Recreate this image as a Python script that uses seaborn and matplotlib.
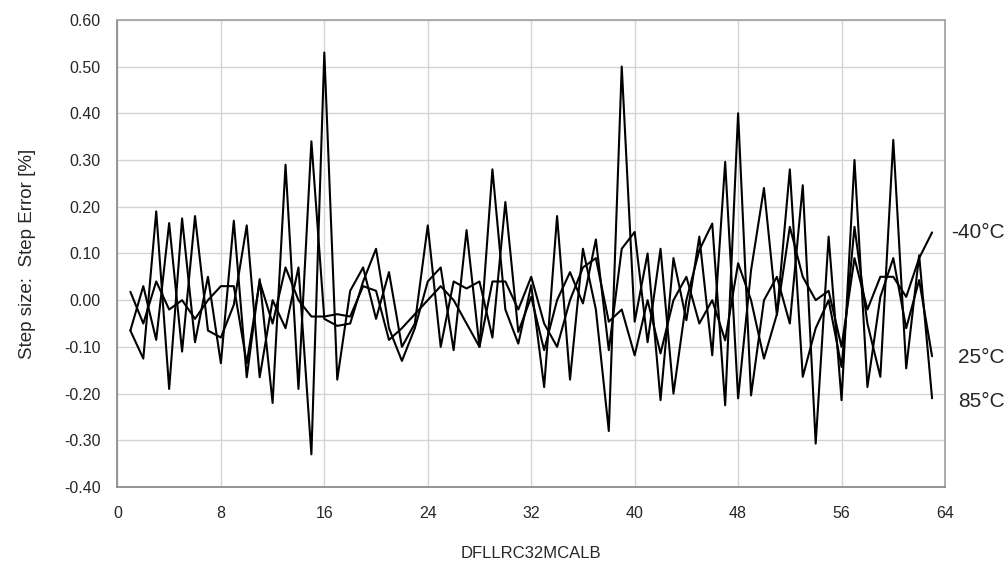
import numpy as np
import pandas as pd
import matplotlib
matplotlib.use("Agg")
import matplotlib.pyplot as plt
import seaborn as sns

# DFLLRC32MCALB setting 1..63
steps = list(range(1, 64))

# step error [%] per temperature
err_m40 = [0.018, -0.05, 0.04, -0.02, 0.0, -0.04, 0.0, 0.03, 0.03, -0.135,
           0.04, -0.05, 0.07, 0.0, -0.035, -0.035, -0.03, -0.035, 0.03, 0.02,
           -0.085, -0.06, -0.03, 0.0, 0.03, 0.0, -0.05, -0.10, 0.04, 0.04,
           -0.02, 0.05, -0.05, -0.10, 0.0, 0.07, 0.09, -0.046, -0.02, -0.118,
           0.0, -0.114, 0.0, 0.05, -0.05, 0.0, -0.086, 0.079, 0.0, -0.125,
           -0.03, 0.157, 0.05, 0.0, 0.02, -0.10, 0.09, -0.02, 0.05, 0.05,
           0.007, 0.09, 0.145]
err_25 = [-0.065, 0.03, -0.085, 0.165, -0.11, 0.18, -0.065, -0.08, -0.01, 0.16,
          -0.165, 0.0, -0.06, 0.07, -0.33, 0.53, -0.17, 0.02, 0.07, -0.04,
          0.06, -0.10, -0.05, 0.16, -0.10, 0.04, 0.025, 0.04, -0.08, 0.21,
          -0.068, 0.007, -0.107, 0.0, 0.06, -0.007, 0.13, -0.107, 0.11, 0.146,
          -0.09, 0.11, -0.20, 0.0, 0.107, 0.164, -0.225, 0.40, -0.204, 0.0,
          0.05, -0.05, 0.246, -0.307, 0.136, -0.214, 0.30, -0.186, 0.007, 0.09,
          -0.06, 0.043, -0.12]
err_85 = [-0.065, -0.125, 0.19, -0.19, 0.175, -0.09, 0.05, -0.135, 0.17, -0.165,
          0.045, -0.22, 0.29, -0.19, 0.34, -0.04, -0.055, -0.05, 0.04, 0.11,
          -0.06, -0.13, -0.06, 0.04, 0.07, -0.107, 0.15, -0.10, 0.28, -0.02,
          -0.093, 0.032, -0.186, 0.18, -0.17, 0.11, -0.02, -0.28, 0.50, -0.046,
          0.10, -0.214, 0.09, -0.043, 0.136, -0.118, 0.296, -0.21, 0.064, 0.24,
          -0.032, 0.28, -0.164, -0.06, 0.0, -0.143, 0.157, -0.05, -0.164, 0.343,
          -0.146, 0.096, -0.21]
temps = ["-40°C", "25°C", "85°C"]
label_y = [0.145, -0.122, -0.216]

df = pd.DataFrame({
    "step": steps * 3,
    "err": err_m40 + err_25 + err_85,
    "temp": [temps[0]] * 63 + [temps[1]] * 63 + [temps[2]] * 63,
})

sns.set_style("white")
plt.rcParams['font.family'] = ['Liberation Sans', 'DejaVu Sans']

fig = plt.figure(figsize=(10.08, 5.67), dpi=100)
ax = fig.add_axes([0.1165, 0.141, 0.821, 0.824])

sns.lineplot(data=df, x="step", y="err", hue="temp",
             palette=["black"] * 3, linewidth=1.5, legend=False, ax=ax)

yt = np.round(np.arange(-0.4, 0.61, 0.1), 2)
ax.set_xlim(0, 64)
ax.set_ylim(-0.4, 0.6)
ax.set_xticks(range(0, 65, 8))
ax.set_yticks(yt)
ax.set_yticklabels([f"{v:.2f}" for v in yt + 0.0])
ax.grid(True, color="#d4d4d4", linewidth=1.0)
ax.set_axisbelow(True)
ax.tick_params(length=0, labelsize=11.5)
ax.tick_params(axis="y", pad=12)
ax.tick_params(axis="x", pad=14)
for s in ["top", "right"]:
    ax.spines[s].set_color("#a6a6a6")
for s in ["left", "bottom"]:
    ax.spines[s].set_color("#8c8c8c")
for s in ax.spines.values():
    s.set_linewidth(1.3)

ax.set_xlabel("DFLLRC32MCALB", fontsize=12, labelpad=18)
ax.set_ylabel("Step size:  Step Error [%]", fontsize=13.5, labelpad=20)

# temperature labels right of the plot
for name, yv in zip(temps, label_y):
    ax.text(1.0725, yv + 0.4, name, transform=ax.transAxes,
            fontsize=15, va="center", ha="right")

fig.savefig("out.png", dpi=100)
